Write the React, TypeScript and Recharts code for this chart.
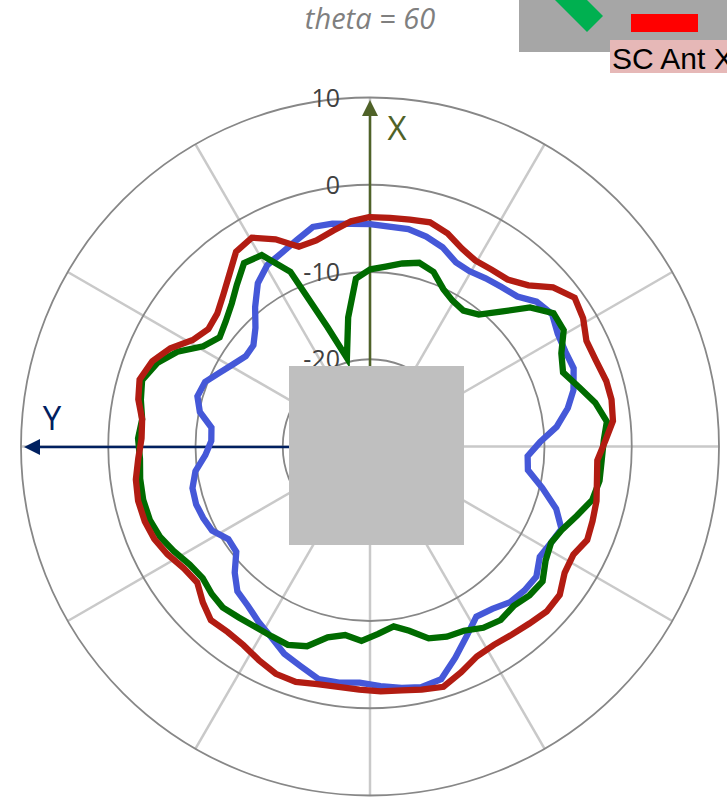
import { RadarChart, Radar, PolarGrid, PolarAngleAxis, PolarRadiusAxis } from "recharts";

// measurement angles in degrees, clockwise from +X
const angles = [
  0, 5, 10, 15, 20, 25, 29.5, 34.5, 39.5, 44.5, 49, 54,
  59, 64, 69, 74.5, 79, 84, 88.5, 93.5, 98.5, 103.5, 108.5, 113.3,
  118, 123, 128, 133, 138, 143, 148, 153, 158, 163, 168, 172.5,
  177.5, 182.5, 187.5, 192.5, 197.5, 202.5, 207.5, 212.5, 217.5, 222.5, 227, 231.8,
  236.8, 242, 246.8, 251.6, 256.8, 262, 267, 272, 276.8, 281.5, 286.2, 291.4,
  296.2, 301, 306, 311, 316, 320.5, 325.5, 330.5, 335.5, 340.4, 345.4, 350.4, 355.2,
];

// gain in dB
const red = [
  -3.7, -3.7, -3.6, -3.4, -4.0, -5.0, -5.5, -5.4, -5.2, -4.1, -2.2, -1.0,
  -1.5, -2.4, -2.3, -1.9, -1.8, -2.0, -3.0, -3.9, -3.7, -3.3, -3.1, -2.9,
  -3.6, -3.4, -2.4, -2.3, -2.7, -3.0, -3.2, -3.0, -2.1, -1.2, -1.5, -1.8,
  -1.9, -2.1, -2.2, -2.1, -1.7, -1.8, -2.4, -3.0, -3.2, -3.0, -3.8, -4.8,
  -4.5, -3.7, -3.1, -2.8, -2.7, -2.9, -3.4, -3.8, -3.7, -2.9, -2.5, -3.2,
  -4.5, -6.3, -7.1, -6.8, -5.8, -4.6, -2.9, -2.5, -3.9, -5.7, -5.6, -4.9, -4.1,
];

const green = [
  -9.7, -9.3, -8.7, -8.2, -8.7, -10.1, -10.8, -11.1, -10.4, -8.3, -5.7, -4.0,
  -4.1, -5.6, -6.3, -5.0, -3.7, -2.7, -3.2, -3.4, -3.4, -3.8, -5.0, -6.0,
  -6.5, -6.0, -4.9, -5.0, -5.4, -5.1, -5.5, -6.3, -6.5, -7.0, -8.4, -9.2,
  -8.5, -7.7, -8.2, -7.6, -6.0, -5.4, -5.5, -5.5, -5.3, -5.0, -5.2, -5.6,
  -5.3, -4.5, -3.8, -3.4, -3.3, -3.4, -3.6, -3.4, -3.7, -3.2, -2.8, -3.8,
  -5.4, -7.7, -8.7, -8.1, -7.2, -6.0, -4.5, -4.8, -8.0, -15.5, -19.5, -15.0, -10.7,
];

const blue = [
  -4.5, -4.7, -4.7, -5.1, -5.7, -6.7, -6.9, -6.6, -6.3, -5.9, -4.7, -4.2,
  -4.9, -5.1, -5.0, -5.8, -6.9, -8.5, -10.5, -11.9, -11.7, -9.7, -7.5, -6.1,
  -6.5, -6.8, -5.8, -5.8, -6.0, -6.7, -7.0, -5.6, -3.9, -2.1, -1.8, -2.1,
  -2.5, -2.9, -2.7, -2.7, -3.6, -4.3, -5.4, -6.2, -7.0, -7.5, -8.8, -10.5,
  -10.6, -9.5, -9.2, -9.0, -9.1, -9.8, -11.1, -11.8, -11.7, -10.1, -9.4, -9.7,
  -10.8, -11.7, -12.4, -12.3, -11.1, -9.3, -7.3, -6.1, -5.6, -4.9, -4.0, -4.1, -4.4,
];

const spokes = [0, 30, 60, 90, 120, 150, 180, 210, 240, 270, 300, 330];

const data = angles.map((angle, i) => ({ angle, red: red[i], green: green[i], blue: blue[i] }));

export default function App() {
  return (
    <div style={{ position: "absolute", left: 0, top: 0, width: 727, height: 797, overflow: "hidden", background: "#fff" }}>
      <RadarChart
        width={727}
        height={797}
        data={data}
        cx={370}
        cy={446.5}
        outerRadius={349}
        startAngle={90}
        endAngle={-270}
        margin={{ top: 0, right: 0, bottom: 0, left: 0 }}
      >
        <PolarGrid gridType="circle" polarAngles={spokes} polarRadius={[]} stroke="#c9c9c9" strokeWidth={2.5} />
        <PolarGrid gridType="circle" polarAngles={[]} radialLines={false} stroke="#878787" strokeWidth={1.8} />
        <PolarAngleAxis dataKey="angle" type="number" domain={[0, 360]} tick={false} axisLine={false} tickLine={false} />
        <PolarRadiusAxis
          angle={90}
          domain={[-30, 10]}
          tickCount={5}
          orientation="left"
          axisLine={false}
          tickLine={false}
          tick={{ fill: "#404040", fontSize: 25, fontFamily: "Open Sans", dx: -30, dy: 9 }}
          tickFormatter={(v: number) => (v === -30 ? "" : String(v))}
        />
        {/* body axes, under the traces */}
        <line x1={370} y1={112} x2={370} y2={366} stroke="#4f6228" strokeWidth={2.5} />
        <polygon points="370,100 362,116 378,116" fill="#4f6228" />
        <line x1={38} y1={447} x2={289} y2={447} stroke="#002060" strokeWidth={2.5} />
        <polygon points="24,447 40,439 40,455" fill="#002060" />
        <Radar dataKey="blue" stroke="#4558d8" strokeWidth={6.3} fill="none" fillOpacity={0} dot={false} isAnimationActive={false} />
        <Radar dataKey="green" stroke="#006b00" strokeWidth={6.3} fill="none" fillOpacity={0} dot={false} isAnimationActive={false} />
        <Radar dataKey="red" stroke="#b21c12" strokeWidth={6.3} fill="none" fillOpacity={0} dot={false} isAnimationActive={false} />
      </RadarChart>

      {/* overlays from the original slide */}
      <svg width={727} height={797} style={{ position: "absolute", left: 0, top: 0 }}>
        <rect x={289} y={366} width={175} height={179} fill="#bfbfbf" />
        <rect x={519} y={0} width={208} height={52} fill="#a6a6a6" />
        <polygon points="555,0 587,32 603,16 587,0" fill="#00b050" />
        <rect x={631} y={14} width={67} height={18} fill="#ff0000" />
        <rect x={610} y={40} width={117} height={33} fill="#e6b8b7" />
        <text x={612} y={69} fontFamily="Liberation Sans" fontSize={30} fill="#000">SC Ant X</text>
        <text x={370} y={29} textAnchor="middle" fontFamily="Open Sans" fontStyle="italic" fontSize={29} fill="#7f7f7f">theta = 60</text>
        <text x={397} y={140} textAnchor="middle" fontFamily="Open Sans" fontSize={33} fill="#4f6228">X</text>
        <text x={52} y={430} textAnchor="middle" fontFamily="Open Sans" fontSize={33} fill="#002060">Y</text>
      </svg>
    </div>
  );
}
